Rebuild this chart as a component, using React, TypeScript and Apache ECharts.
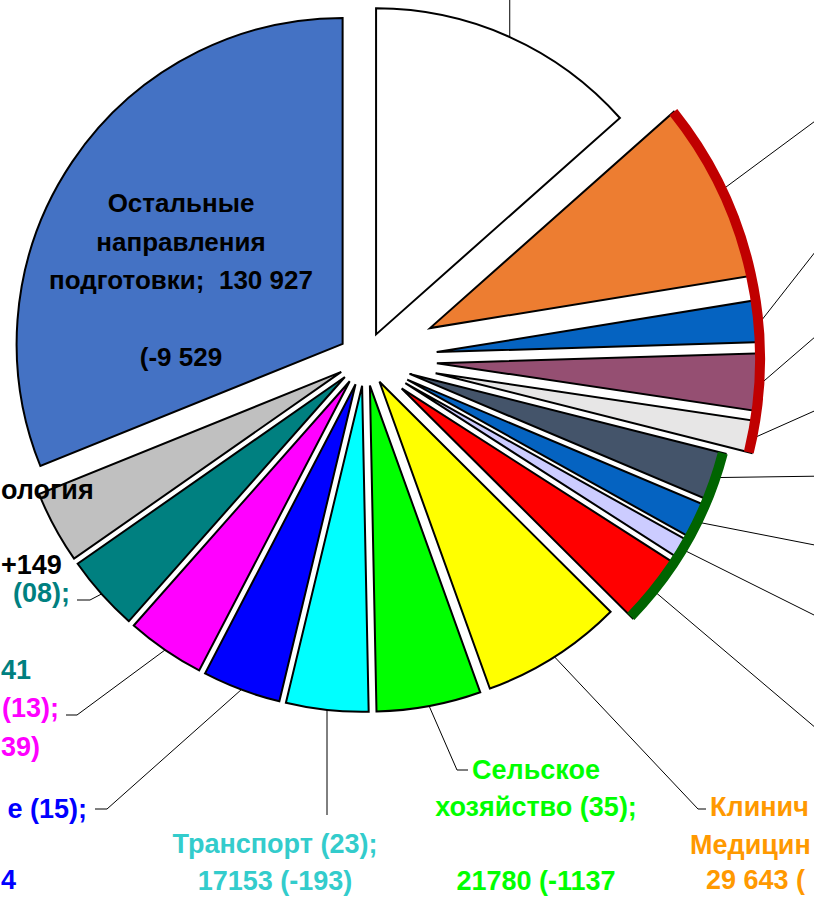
import React, { useEffect, useRef } from "react";
import * as echarts from "echarts";

// ---- data ----
const categories = [
  "Направление A",
  "Направление B",
  "Направление C",
  "Направление D",
  "Направление E",
  "Направление F",
  "Направление G",
  "Направление H",
  "Направление I",
  "Клиническая медицина (31)",
  "Сельское хозяйство (35)",
  "Транспорт (23)",
  "Направление (15)",
  "Направление (13)",
  "Направление (08)",
  "…ология",
  "Остальные направления подготовки",
];
const values = [
  56600, 37800, 8750, 12000, 6650, 10150, 7350, 4100, 14250, 29643, 21780,
  17153, 16350, 16350, 15850, 15150, 130927,
];

// ---- styles / layout ----
const colors = [
  "#ffffff", "#ed7d31", "#0563c1", "#954f72", "#e7e6e6", "#44546a", "#0563c1",
  "#ccccff", "#ff0000", "#ffff00", "#00ff00", "#00ffff", "#0000ff", "#ff00ff",
  "#008080", "#c0c0c0", "#4472c4",
];
const explode = [27, 72, 72, 72, 72, 47, 47, 47, 47, 27, 27, 27, 27, 27, 27, 27, 27];
const brackets = [
  { from: 1, to: 4, color: "#c00000" },
  { from: 5, to: 8, color: "#006400" },
];
const W = 814;
const H = 897;
const CX = 365;
const CY = 359;
const R = 326;
const FONT = '"Liberation Sans", Arial, sans-serif';

const leaders: { i: number; pts?: number[][]; vertical?: number }[] = [
  { i: 0, vertical: -5 },
  { i: 1, pts: [[830, 110]] },
  { i: 2, pts: [[830, 233]] },
  { i: 3, pts: [[830, 324]] },
  { i: 4, pts: [[830, 404]] },
  { i: 5, pts: [[830, 476]] },
  { i: 6, pts: [[830, 548]] },
  { i: 7, pts: [[830, 623]] },
  { i: 8, pts: [[830, 740]] },
  { i: 9, pts: [[698, 809], [706, 809]] },
  { i: 10, pts: [[457, 770], [468, 770]] },
  { i: 11, vertical: 815 },
  { i: 12, pts: [[107, 809], [95, 809]] },
  { i: 13, pts: [[77, 715], [66, 715]] },
  { i: 14, pts: [[90, 600], [77, 600]] },
];

const texts: { t: string; x: number; y: number; a: string; c: string; s?: number; lh?: number }[] = [
  { t: "Остальные\nнаправления\nподготовки;  130 927\n\n(-9 529", x: 181, y: 280, a: "center", c: "#000000", s: 26, lh: 38.5 },
  { t: "ология", x: 1, y: 490, a: "left", c: "#000000" },
  { t: "+149", x: 1, y: 565, a: "left", c: "#000000" },
  { t: "(08);", x: 70, y: 593, a: "right", c: "#008080" },
  { t: "41", x: 1, y: 670, a: "left", c: "#008080" },
  { t: "(13);", x: 2, y: 708, a: "left", c: "#ff00ff" },
  { t: "39)", x: 1, y: 747, a: "left", c: "#ff00ff" },
  { t: "е (15);", x: 87, y: 809, a: "right", c: "#0000ff" },
  { t: "4", x: 1, y: 880, a: "left", c: "#0000ff" },
  { t: "Транспорт (23);\n17153 (-193)", x: 275, y: 862, a: "center", c: "#33cccc", lh: 37 },
  { t: "Сельское\nхозяйство (35);\n\n21780 (-1137", x: 536, y: 825, a: "center", c: "#00ff00", lh: 37 },
  { t: "Клинич", x: 710, y: 807, a: "left", c: "#ff9900" },
  { t: "Медицин", x: 690, y: 845, a: "left", c: "#ff9900" },
  { t: "29 643 (", x: 706, y: 880, a: "left", c: "#ff9900" },
];

const RAD = Math.PI / 180;

function buildOption() {
  const total = values.reduce((a, b) => a + b, 0);
  let cum = 0;
  const slices = values.map((v, i) => {
    const a0 = (cum / total) * 360;
    cum += v;
    const a1 = (cum / total) * 360;
    const mid = (a0 + a1) / 2;
    const e = explode[i];
    return {
      a0,
      a1,
      mid,
      cx: CX + e * Math.sin(mid * RAD),
      cy: CY - e * Math.cos(mid * RAD),
    };
  });

  const series = values.map((v, i) => {
    const s = slices[i];
    const start = (((90 - s.a0) % 360) + 360) % 360;
    return {
      type: "pie",
      silent: true,
      z: 1,
      radius: R,
      center: [s.cx, s.cy],
      startAngle: start,
      clockwise: true,
      avoidLabelOverlap: false,
      label: { show: false },
      labelLine: { show: false },
      emphasis: { disabled: true },
      data: [
        {
          name: categories[i],
          value: v,
          itemStyle: {
            color: colors[i],
            borderColor: "#000000",
            borderWidth: 2,
            borderJoin: "miter",
          },
        },
        {
          name: "—",
          value: total - v,
          itemStyle: { color: "rgba(0,0,0,0)", borderWidth: 0 },
        },
      ],
    };
  });

  const pointOn = (i: number, ang: number, r: number) => [
    slices[i].cx + r * Math.sin(ang * RAD),
    slices[i].cy - r * Math.cos(ang * RAD),
  ];
  const angFromC = (p: number[]) => Math.atan2(p[0] - CX, -(p[1] - CY)) / RAD;

  const graphics: any[] = [];

  leaders.forEach((L) => {
    const p0 = pointOn(L.i, slices[L.i].mid, R);
    const pts = [p0];
    if (L.vertical !== undefined) pts.push([p0[0], L.vertical]);
    if (L.pts) L.pts.forEach((p) => pts.push(p));
    graphics.push({
      type: "polyline",
      z: 100,
      zlevel: 0,
      silent: true,
      shape: { points: pts },
      style: { stroke: "#000000", lineWidth: 1, fill: null },
    });
  });

  brackets.forEach((b) => {
    const e = explode[b.from];
    const t0 = angFromC(pointOn(b.from, slices[b.from].a0, R));
    const t1 = angFromC(pointOn(b.to, slices[b.to].a1, R));
    graphics.push({
      type: "arc",
      z: 110,
      zlevel: 0,
      silent: true,
      shape: {
        cx: CX,
        cy: CY,
        r: R + e - 3,
        startAngle: (t0 - 90) * RAD,
        endAngle: (t1 - 90) * RAD,
        clockwise: true,
      },
      style: { stroke: b.color, lineWidth: 10, fill: null, lineCap: "butt" },
    });
  });

  texts.forEach((t) => {
    graphics.push({
      type: "text",
      z: 120,
      zlevel: 0,
      silent: true,
      style: {
        text: t.t,
        x: t.x,
        y: t.y,
        fill: t.c,
        fontSize: t.s || 27,
        fontWeight: "bold",
        fontFamily: FONT,
        align: t.a,
        verticalAlign: "middle",
        lineHeight: t.lh || 38,
      },
    });
  });

  return {
    animation: false,
    backgroundColor: "#ffffff",
    series,
    graphic: { elements: graphics },
  };
}

export default function App() {
  const ref = useRef<HTMLDivElement>(null);
  useEffect(() => {
    if (!ref.current) return;
    const chart = echarts.init(ref.current, null, { renderer: "svg", width: W, height: H });
    chart.setOption(buildOption() as any);
    return () => chart.dispose();
  }, []);
  return (
    <div
      ref={ref}
      style={{ position: "fixed", left: 0, top: 0, width: W, height: H, background: "#fff" }}
    />
  );
}
